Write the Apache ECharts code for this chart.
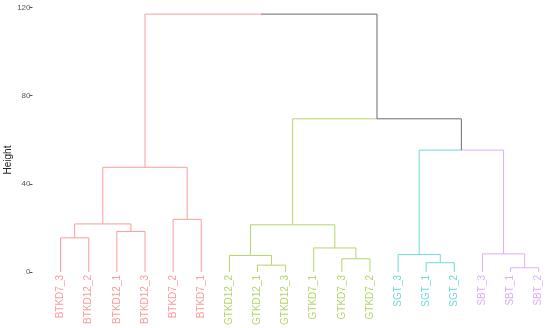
<!DOCTYPE html>
<html>
<head>
<meta charset="utf-8">
<script src="https://cdn.jsdelivr.net/npm/echarts@6/dist/echarts.min.js"></script>
<style>html,body{margin:0;padding:0;background:#fff}#c{width:550px;height:328px}</style>
</head>
<body>
<div id="c"></div>
<script>
// Leaves in display order
const leaves = ['BTKD7_3','BTKD12_2','BTKD12_1','BTKD12_3','BTKD7_2','BTKD7_1',
  'GTKD12_2','GTKD12_1','GTKD12_3','GTKD7_1','GTKD7_3','GTKD7_2',
  'SGT_3','SGT_1','SGT_2','SBT_3','SBT_1','SBT_2'];
const leafCluster = [0,0,0,0,0,0, 1,1,1,1,1,1, 2,2,2, 3,3,3];
// Merge table (R hclust style): negative = leaf (-(index+1)), positive = merge number (1-based)
const mergeLeft   = [-17, -8, -14, -11, -7, -13, -16, -10, -1, -3, 5, 9, -5, 12, 6, 11, 14];
const mergeRight  = [-18, -9, -15, -12,  2,   3,   1,   4, -2, -4, 8, 10, -6, 13, 7, 15, 16];
const mergeHeight = [1.9, 3.1, 4.2, 6.0, 7.5, 7.9, 8.2, 10.9, 15.5, 18.4, 21.4, 21.8, 23.9, 47.5, 55.3, 69.5, 117];
const yTicks = [0, 40, 80, 120];
const clusterColors = ['#F99E9A', '#B2D66A', '#6FD9DB', '#DDADFF'];
const upperColor = '#6B6B6B';

// Build node info
const nodeX = [], nodeH = [], nodeCl = [];
function childInfo(c) {
  if (c < 0) { const i = -c - 1; return { x: i, h: 0, cl: leafCluster[i] }; }
  return { x: nodeX[c - 1], h: nodeH[c - 1], cl: nodeCl[c - 1] };
}
const segs = [];
for (let m = 0; m < mergeHeight.length; m++) {
  const a = childInfo(mergeLeft[m]), b = childInfo(mergeRight[m]);
  nodeX[m] = (a.x + b.x) / 2;
  nodeH[m] = mergeHeight[m];
  nodeCl[m] = (a.cl === b.cl) ? a.cl : -1;
  [a, b].forEach(ch => {
    segs.push({
      coords: [[nodeX[m], nodeH[m]], [ch.x, nodeH[m]], [ch.x, ch.h]],
      lineStyle: { color: ch.cl >= 0 ? clusterColors[ch.cl] : upperColor }
    });
  });
}

const rich = {};
clusterColors.forEach((c, i) => { rich['c' + i] = { color: c, fontSize: 10, fontFamily: 'Liberation Sans' }; });

const chart = echarts.init(document.getElementById('c'), null, { renderer: 'canvas' });
chart.setOption({
  animation: false,
  backgroundColor: '#fff',
  grid: { left: 32.5, right: 11.3, top: 7.5, bottom: 53 },
  xAxis: {
    type: 'value', min: -1, max: leaves.length - 1, interval: 1,
    axisLine: { show: false, onZero: false }, axisTick: { show: false }, splitLine: { show: false },
    axisLabel: {
      rotate: 90, margin: 3, fontSize: 10, fontFamily: 'Liberation Sans',
      formatter: v => {
        const i = Math.round(v);
        if (i < 0 || i >= leaves.length) return '';
        return '{c' + leafCluster[i] + '|' + leaves[i] + '}';
      },
      rich: rich
    }
  },
  yAxis: {
    type: 'value', min: 0, max: 120, interval: 40,
    axisLine: { show: false, onZero: false },
    axisTick: { show: true, length: 3, lineStyle: { color: '#555' } },
    splitLine: { show: false },
    axisLabel: { margin: 2, fontSize: 8, color: '#555', fontFamily: 'Liberation Sans',
      formatter: v => yTicks.includes(v) ? String(v) : '' }
  },
  graphic: [{
    type: 'text', x: 3, y: 160, rotation: Math.PI / 2,
    style: { text: 'Height', fontSize: 10, fill: '#222', fontFamily: 'Liberation Sans',
      align: 'center', verticalAlign: 'top' }
  }],
  series: [{
    type: 'lines', coordinateSystem: 'cartesian2d', polyline: true, silent: true,
    lineStyle: { width: 1, opacity: 1 },
    data: segs
  }]
});
</script>
</body>
</html>
